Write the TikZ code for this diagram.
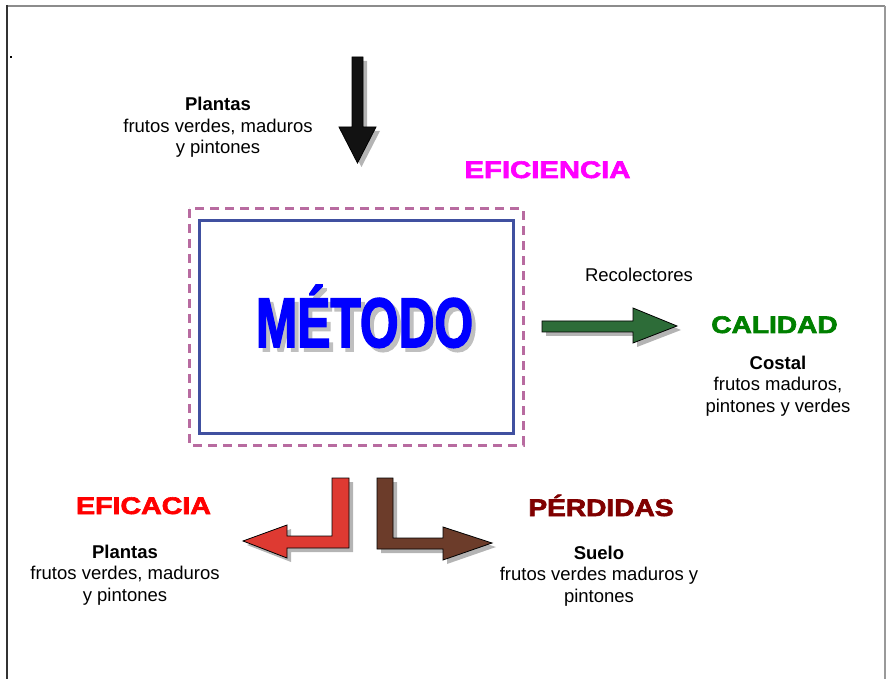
\documentclass[tikz,border=0pt]{standalone}
\usepackage{fontspec}
\setmainfont{Liberation Sans}
\newfontfamily\headfont[BoldFeatures={FakeBold=2.5}]{Liberation Sans}
\definecolor{shadowgray}{RGB}{180,180,180}
\definecolor{dashpink}{RGB}{184,107,160}
\definecolor{boxblue}{RGB}{64,80,160}
\definecolor{arrgreen}{RGB}{45,108,56}
\definecolor{arrred}{RGB}{222,58,50}
\definecolor{arrbrown}{RGB}{108,60,42}
\definecolor{darkred}{RGB}{128,0,0}
\definecolor{headgreen}{RGB}{0,128,0}
\definecolor{puremagenta}{RGB}{255,0,255}
\definecolor{pureblue}{RGB}{0,0,255}
\definecolor{purered}{RGB}{255,0,0}
\begin{document}
\begin{tikzpicture}[x=1pt,y=-1pt,
  bodytext/.style={font=\fontsize{18.5}{21.5}\selectfont, align=center, inner sep=0pt, anchor=base},
  headtext/.style={font=\fontsize{24}{28}\selectfont\headfont\bfseries, inner sep=0pt, anchor=base},
  arrowbody/.style={draw=black, line width=0.8pt, line join=miter}]
\useasboundingbox (0,0) rectangle (887,679);
% page frame
\draw[line width=2pt, color=black!45] (6,6) -- (885,6);
\draw[line width=2pt, color=black!80] (6.5,5) -- (6.5,679);
\draw[line width=2pt, color=black!40] (884.5,6) -- (884.5,679);
\fill (10,56.5) rectangle (12,58);
% boxes
\draw[dashpink, line width=3pt, dash pattern=on 9pt off 6pt] (189,209) rectangle (523,445);
\draw[boxblue, line width=3pt] (199,221) rectangle (513,433);
% METODO with shadow
\node[font=\fontsize{70}{80}\selectfont\headfont\bfseries, text=black!25, inner sep=0pt, anchor=base] (metodoshadow) at (368.5,351) {\scalebox{0.71}[1]{MÉTODO}};
\node[font=\fontsize{70}{80}\selectfont\headfont\bfseries, text=pureblue, inner sep=0pt, anchor=base] (metodo) at (364.5,347) {\scalebox{0.71}[1]{MÉTODO}};
% down arrow
\fill[shadowgray] (356,61) -- (367,61) -- (367,131) -- (380,131) -- (361.5,167) -- (343,131) -- (356,131) -- cycle;
\draw[fill=black!93, draw=black, line width=0.8pt] (352,57) -- (363,57) -- (363,127) -- (376,127) -- (357.5,163) -- (339,127) -- (352,127) -- cycle;
% green arrow
\fill[shadowgray] (546,325) -- (637,325) -- (637,312) -- (681,330) -- (637,347) -- (637,336) -- (546,336) -- cycle;
\draw[arrowbody, fill=arrgreen] (542,321) -- (633,321) -- (633,308) -- (677,326) -- (633,343) -- (633,332) -- (542,332) -- cycle;
% red bent arrow
\fill[shadowgray] (336,482) -- (353,482) -- (353,552) -- (291,552) -- (291,562) -- (247,545) -- (291,529) -- (291,540) -- (336,540) -- cycle;
\draw[arrowbody, fill=arrred] (332,478) -- (349,478) -- (349,548) -- (287,548) -- (287,558) -- (243,541) -- (287,525) -- (287,536) -- (332,536) -- cycle;
% brown bent arrow
\fill[shadowgray] (381,482) -- (397,482) -- (397,542) -- (447,542) -- (447,531) -- (496,547) -- (447,564) -- (447,553) -- (381,553) -- cycle;
\draw[arrowbody, fill=arrbrown] (377,478) -- (393,478) -- (393,538) -- (443,538) -- (443,527) -- (492,543) -- (443,560) -- (443,549) -- (377,549) -- cycle;
% texts
\node[bodytext] (plantasin) at (218,154) {\textbf{Plantas}\\frutos verdes, maduros\\y pintones};
\node[headtext, text=puremagenta] (eficiencia) at (547.5,178) {\scalebox{1.22}[1]{EFICIENCIA}};
\node[bodytext] (recolectores) at (639,282) {Recolectores};
\node[headtext, text=headgreen] (calidad) at (774.5,333) {\scalebox{1.17}[1]{CALIDAD}};
\node[bodytext] (costal) at (778,412) {\textbf{Costal}\\frutos maduros,\\pintones y verdes};
\node[headtext, text=purered] (eficacia) at (143.5,514) {\scalebox{1.19}[1]{EFICACIA}};
\node[bodytext] (plantasout) at (125,601) {\textbf{Plantas}\\frutos verdes, maduros\\y pintones};
\node[headtext, text=darkred] (perdidas) at (601,516) {\scalebox{1.17}[1]{PÉRDIDAS}};
\node[bodytext] (suelo) at (599,602) {\textbf{Suelo}\\frutos verdes maduros y\\pintones};
\end{tikzpicture}
\end{document}
